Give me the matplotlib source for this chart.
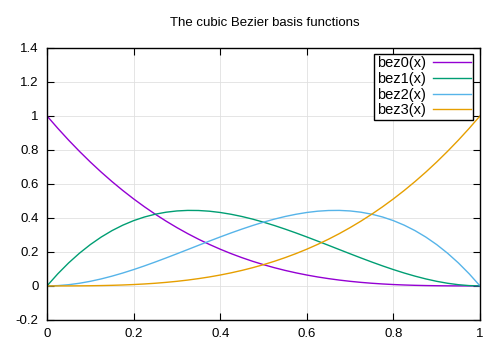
import matplotlib
matplotlib.use("Agg")
import matplotlib.pyplot as plt

plt.rcParams['font.family'] = ['Liberation Sans', 'DejaVu Sans']

x = [0, .025, .05, .075, .1, .125, .15, .175, .2, .225, .25, .275, .3, .325, .35, .375,
     .4, .425, .45, .475, .5, .525, .55, .575, .6, .625, .65, .675, .7, .725, .75, .775,
     .8, .825, .85, .875, .9, .925, .95, .975, 1]
bez0 = [1, .9269, .8574, .7915, .729, .6699, .6141, .5615, .512, .4655, .4219, .3811,
        .343, .3075, .2746, .2441, .216, .1901, .1664, .1447, .125, .1072, .0911, .0768,
        .064, .0527, .0429, .0343, .027, .0208, .0156, .0114, .008, .0054, .0034, .002,
        .001, .0004, .0001, 0, 0]
bez1 = [0, .0713, .1354, .1925, .243, .2871, .3251, .3573, .384, .4054, .4219, .4336,
        .441, .4442, .4436, .4395, .432, .4215, .4084, .3928, .375, .3554, .3341, .3116,
        .288, .2637, .2389, .2139, .189, .1645, .1406, .1177, .096, .0758, .0574, .041,
        .027, .0156, .0071, .0018, 0]
bez2 = bez1[::-1]
bez3 = bez0[::-1]
labels = ["bez0(x)", "bez1(x)", "bez2(x)", "bez3(x)"]
colors = ["#9400d3", "#009e73", "#56b4e9", "#e69f00"]
xticks = [0, 0.2, 0.4, 0.6, 0.8, 1]
yticks = [-0.2, 0, 0.2, 0.4, 0.6, 0.8, 1, 1.2, 1.4]

fig = plt.figure(figsize=(5, 3.5), dpi=100)
ax = fig.add_axes([0.094, 0.086, 0.866, 0.777])
for ys, lab, c in zip([bez0, bez1, bez2, bez3], labels, colors):
    ax.plot(x, ys, color=c, lw=1, label=lab)
ax.set_xlim(0, 1)
ax.set_ylim(-0.2, 1.4)
ax.set_xticks(xticks)
ax.set_xticklabels(["0", "0.2", "0.4", "0.6", "0.8", "1"])
ax.set_yticks(yticks)
ax.set_yticklabels(["-0.2", "0", "0.2", "0.4", "0.6", "0.8", "1", "1.2", "1.4"])
ax.tick_params(direction='in', top=True, right=True, length=5, labelsize=9.5, pad=6, color='black')
ax.grid(True, color='#e0e0e0', lw=0.6)
ax.set_axisbelow(True)
for s in ax.spines.values():
    s.set_linewidth(1)
fig.text(0.53, 0.935, "The cubic Bezier basis functions", ha='center', va='center', fontsize=9.5)
leg = ax.legend(loc='upper right', bbox_to_anchor=(0.984, 0.978), markerfirst=False,
                frameon=True, fancybox=False, edgecolor='black', framealpha=1,
                fontsize=10.5, handlelength=2.6, borderpad=0.15, labelspacing=0.12,
                handletextpad=0.5, borderaxespad=0)
leg.get_frame().set_linewidth(1)
fig.savefig("out.png", dpi=100)
